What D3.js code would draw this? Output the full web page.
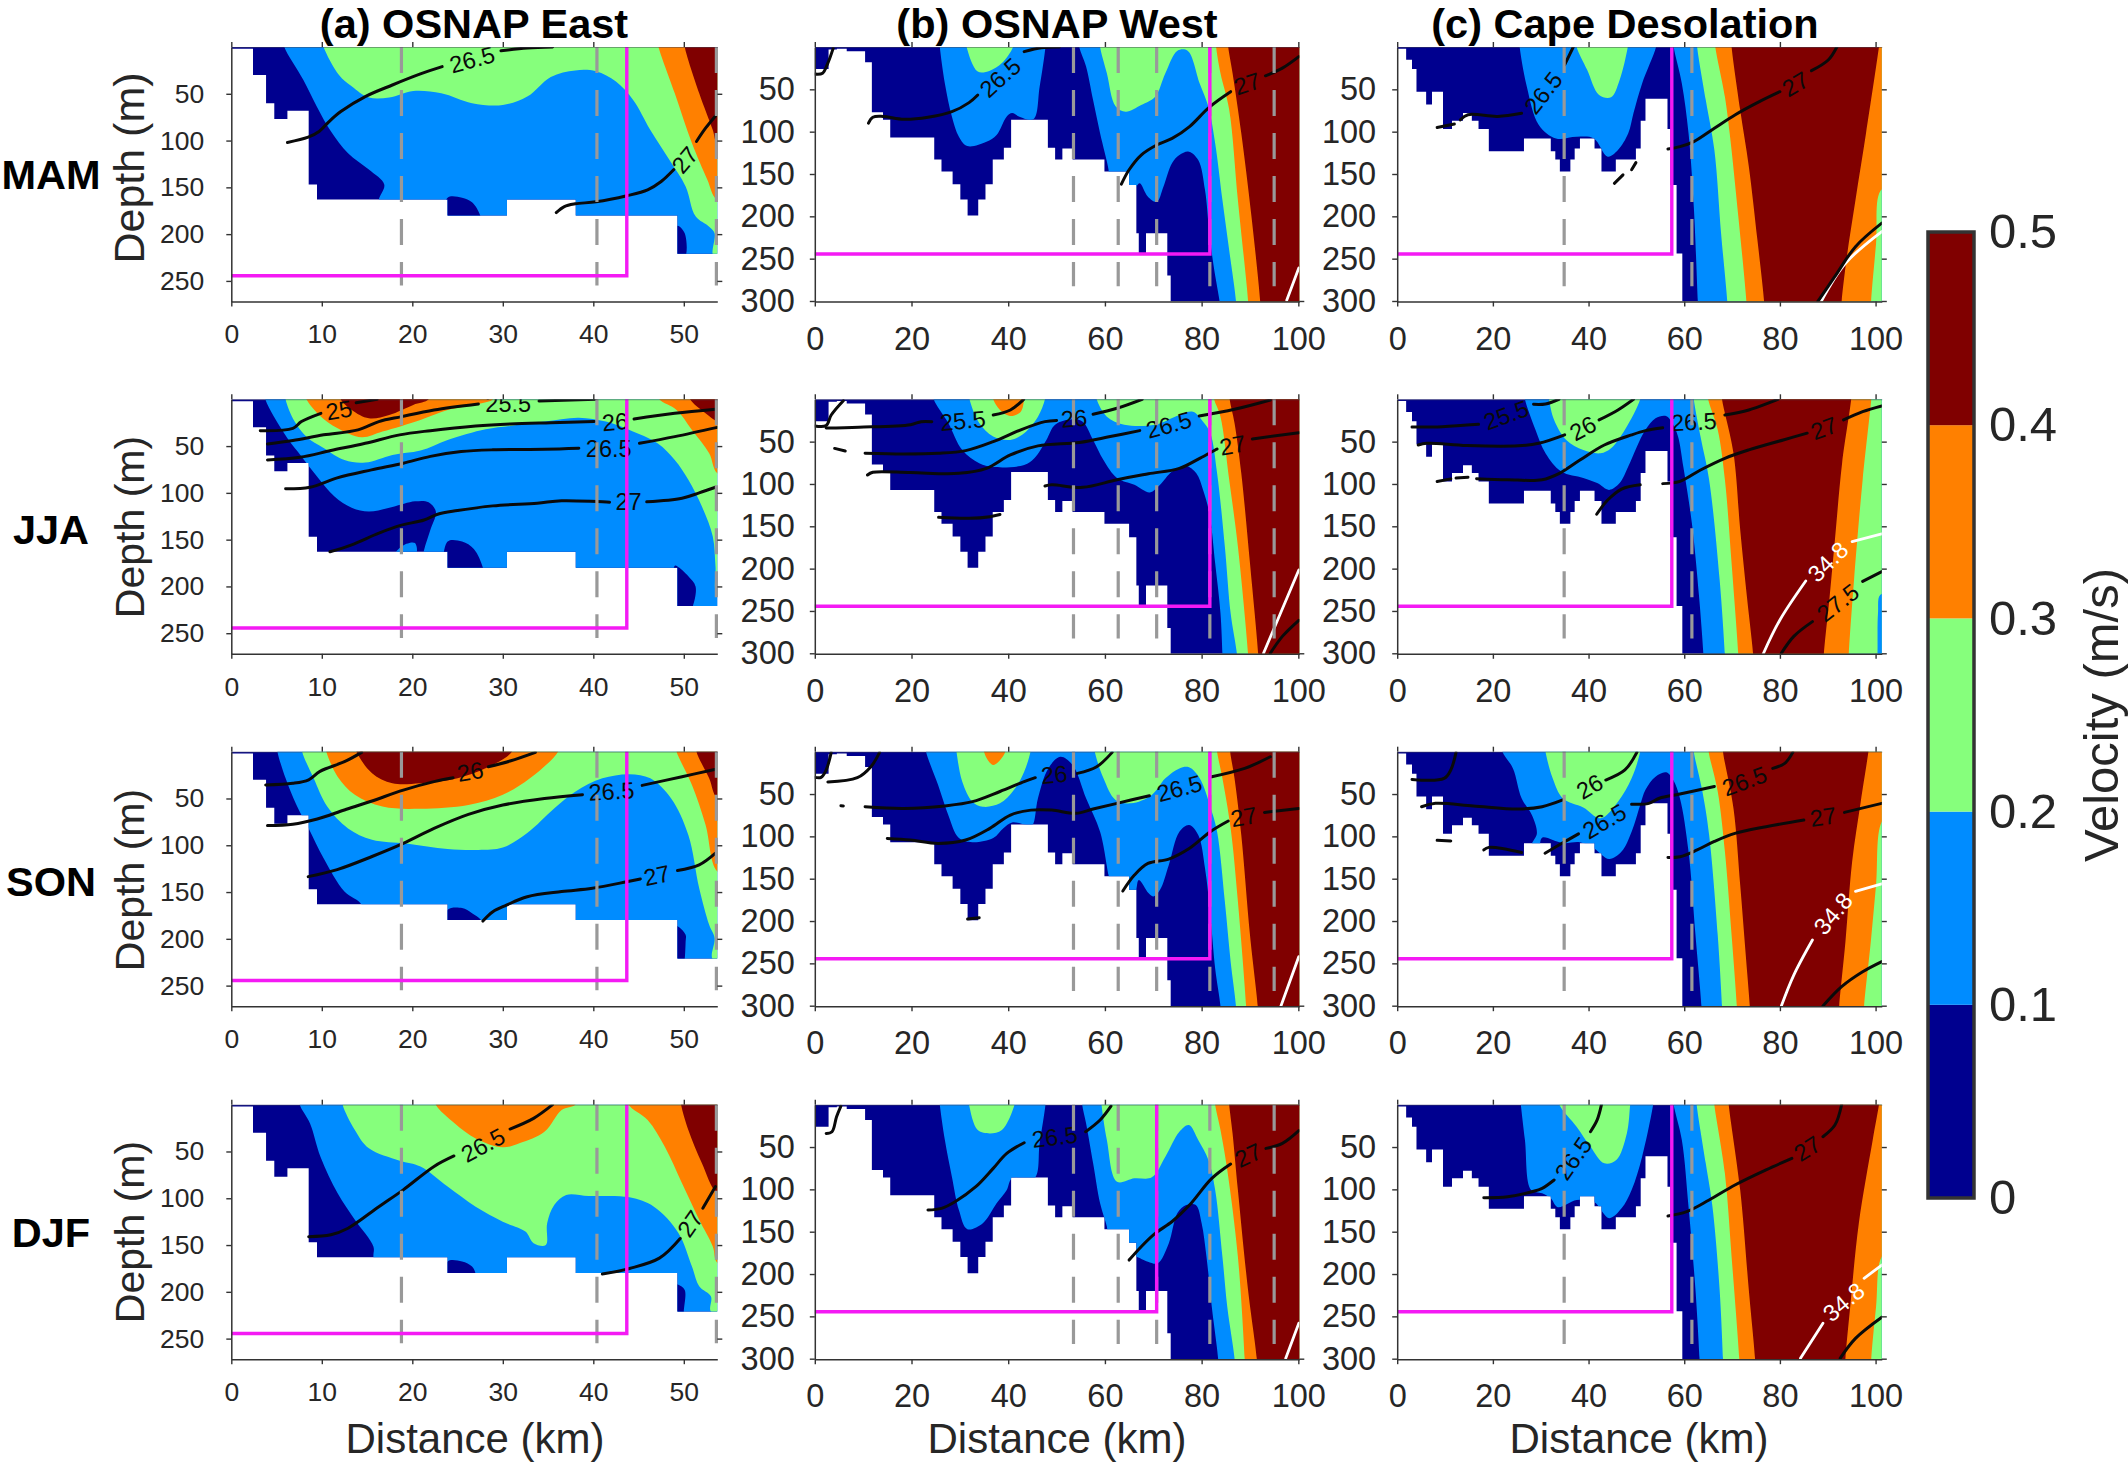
<!DOCTYPE html>
<html>
<head>
<meta charset="utf-8">
<script src="https://cdn.jsdelivr.net/npm/d3@7"></script>
<style>
  html, body { margin: 0; padding: 0; background: #fff; }
  svg { display: block; }
  text { font-family: "Liberation Sans", Arial, sans-serif; fill: #262626; }
</style>
</head>
<body>
<svg id="chart" width="2128" height="1470"></svg>
<script>
// Velocity bands: 0 = 0-0.1, 1 = 0.1-0.2, 2 = 0.2-0.3, 3 = 0.3-0.4, 4 = 0.4-0.5 m/s
const bandColors = ["#00008f", "#008cff", "#86ff7c", "#ff8000", "#800000"];
const bandEdges = [0, 0.1, 0.2, 0.3, 0.4, 0.5];

const seasons = ["MAM", "JJA", "SON", "DJF"];
const sections = ["(a) OSNAP East", "(b) OSNAP West", "(c) Cape Desolation"];

// Seabed steps along each section: distance edges (km), depth between edges (m)
const eastEdges = [0,2.4,3.84,4.75,6.2,8.55,9.47,23.9,30.46,38.06,49.3,53.7];
const eastFloor = [2,30,60,77,68,147,163,180,163,180,221];
const westEdges = [0,2.85,4.56,6.6,10.4,11.8,14.1,15.6,24.7,26.2,28.5,30.1,31.6,33.8,35.3,36.8,39.1,40.6,48.2,49.7,51.2,53.3,59.9,65,66.5,67,68.5,72.9,73.6,100.2];
const westFloor = [26,3,2,5,18,77,86,107,133,147,162,180,199,180,162,133,119,86,119,133,120,133,147,163,220,244,220,270,300.6];
const capeEdges = [0,1.87,3.1,4.03,6.05,7.27,9.58,11.45,13.75,15.6,17,19.15,26.5,32.1,33.05,34,36.2,37.1,38.2,41.25,42.7,45.7,49.9,50.9,51.9,56.5,57.1,58.4,59.6,101.3];
const capeFloor = [2,15,26,53,68,53,97,87,78,87,97,123,108,123,133,147,133,120,108,120,147,133,120,87,61,97,163,244,300.6];

// Mooring positions (km) and eastern limit of the boundary current box (km)
const eastMoorings = [18.8,40.4,53.6];
const westMoorings = [53.5,62.75,70.7,81.7,95];
const capeMoorings = [34.9,61.6];
const eastBoxEdge = [43.7,43.7,43.7,43.7];
const westBoxEdge = [81.7,81.7,81.7,70.7];
const capeBoxEdge = [57.4,57.4,57.4,57.4];
const boxDepth = 244.5;

// Band outlines as [band, [[km, m], ...]], painted in order over the 0-0.1 background
const eastMamBands = [
 [1,[[5.7,-10],[5.86,0],[7.95,35],[9.47,64],[11,90],[12.9,113.5],[15.2,131],[16.9,147],[16.3,163],[16.1,178],[16.1,240],[56,240],[56,-10]]],
 [0,[[23.9,161],[25.5,161],[26.6,166],[27.5,180],[27.6,190],[23.7,190]]],
 [0,[[49.3,191],[50.1,199],[50.1,225],[49,225]]],
 [2,[[10,-10],[10.2,0],[11.9,30],[13.3,42],[15.2,54],[17.45,54],[20.1,47],[23.2,49.5],[26.6,60],[30,62],[32.7,53],[35.3,32],[38,25],[40.3,26],[42.5,37],[44.4,56.6],[46.3,88.6],[48.4,120.6],[50.2,149],[51.3,181],[52.8,192],[53.4,199],[53.3,224],[56,224],[56,-10]]],
 [3,[[47,-10],[47.2,0],[49,49.5],[50.9,103],[52.6,142],[53.6,163],[56,170],[56,-10]]],
 [4,[[50,-10],[50.1,0],[51.7,49.5],[53.2,88.6],[53.7,103],[56,110],[56,-10]]]
];
const eastJjaBands = [
 [1,[[3.6,-10],[3.76,0],[4.7,18.5],[6.2,41.6],[7.75,61],[9.47,82.6],[11.4,104],[13.3,116],[15.2,120],[17.8,115],[20.3,109],[21.8,110],[22.6,120],[22,139.5],[21.3,161],[21,175],[21,240],[56,240],[56,-10]]],
 [1,[[18.2,164],[19.35,154.5],[20.3,153.7],[20.4,166]]],
 [0,[[23.9,152],[25.5,152],[26.8,160],[27.8,180],[27.9,190],[23.8,190]]],
 [0,[[49.3,178.6],[50.5,189],[51.3,200],[51,221],[50.5,230],[49,230],[49,178]]],
 [2,[[6,-10],[6,0],[7,23.8],[8.3,40],[10.2,52],[12.5,65],[14.8,67.6],[17.8,59.4],[20.9,54.8],[23.9,43.4],[28.1,32],[30.8,28.5],[34.6,23.8],[38.4,19.6],[41.4,23.8],[44,32.7],[47.1,47],[49,65],[50.5,86],[52,114.6],[53.2,146.6],[53.5,178.6],[53.7,210],[56,215],[56,-10]]],
 [3,[[8,-10],[8.3,0],[9.7,16.7],[11.75,31],[14.4,40.6],[16.7,34.5],[20.9,22],[23.9,11.4],[27.3,5],[28.9,0],[29,-10]]],
 [3,[[47,-10],[47.3,0],[49.2,11.4],[50.9,32.7],[52.8,57.6],[53.7,79],[56,85],[56,-10]]],
 [4,[[12,-10],[12.1,0],[13.3,11.4],[15.2,20.3],[17.45,16.7],[20.1,6],[21.8,0],[22,-10]]],
 [4,[[50.5,-10],[50.7,0],[52.4,15],[53.7,23.8],[56,30],[56,-10]]]
];
const eastSonBands = [
 [1,[[5,-10],[5.1,0],[6,28.5],[7.2,57],[8.55,82],[10.2,114],[12.5,149.5],[14.4,163.7],[14.6,190],[14.6,240],[56,240],[56,-10]]],
 [0,[[23.9,169],[25.5,167],[26.6,172.6],[27.7,181.5],[27.8,195],[23.8,195]]],
 [0,[[49.4,187],[50.2,195.7],[50.2,203],[50.1,222],[50,230],[49.2,230],[49.2,187]]],
 [2,[[7.7,-10],[7.83,0],[9.1,28.5],[10.6,58.7],[12.9,82],[15.55,94],[19.35,98],[23.9,104],[27.3,105],[30,102.5],[32.7,87],[35.7,60.5],[38,42.7],[41,28.5],[44,24],[46.3,28.5],[48.6,50],[50.5,89],[51.7,146],[52.8,185],[53.4,199],[53.2,222],[56,225],[56,-10]]],
 [3,[[10.3,-10],[10.5,0],[11.75,26.7],[13.65,46],[16.7,58.7],[20.9,61],[26.2,57],[30,46],[33,28.5],[36.1,0],[36.3,-10]]],
 [3,[[49,-10],[49.2,0],[50.9,35.6],[52.4,78],[53.7,128],[56,135],[56,-10]]],
 [4,[[13.6,-10],[13.84,0],[15.55,23],[17.8,33.8],[20.9,33.8],[25,28.5],[28.9,14],[31,0],[31.2,-10]]],
 [4,[[51.3,-10],[51.4,0],[52.8,28.5],[53.7,50],[56,55],[56,-10]]]
];
const eastDjfBands = [
 [1,[[7.5,-10],[7.57,0],[8.7,20],[9.85,55.5],[11.75,94.7],[13.65,123],[15.7,151.6],[15.7,162],[15.8,190],[15.8,240],[56,240],[56,-10]]],
 [0,[[23.9,167.6],[25.5,167.6],[26.6,173],[27,181],[27,195],[23.8,195]]],
 [0,[[49.4,192.5],[50.1,198],[50,221],[50,230],[49.2,230],[49.2,192]]],
 [2,[[12.2,-10],[12.3,0],[13.65,27],[15.2,46.6],[18.6,59.8],[20.9,66],[23.9,87.5],[27,109],[30,125],[32.5,135.6],[33.4,148],[34.75,150],[34.9,126.7],[35.7,107],[37,96.4],[39.5,97.5],[44,99],[46.7,109],[49.4,137],[50.9,173],[51.7,194],[53,205],[53,221],[56,225],[56,-10]]],
 [3,[[22.4,-10],[22.6,0],[24.7,20],[27,36],[30,45.5],[31.9,41],[34.6,29],[36.5,5.7],[38,0],[38.2,-10]]],
 [3,[[43.7,-10],[43.9,0],[46,16.4],[47.9,45],[49.8,84],[51.7,123],[53.2,151.6],[53.7,169],[56,175],[56,-10]]],
 [4,[[49.6,-10],[49.7,0],[50.5,27],[52,62.6],[53.7,94.7],[56,100],[56,-10]]]
];

const westMamBands = [
 [1,[[25.7,-10],[25.85,0],[26.9,43],[28.35,82],[29.8,106],[31.55,117],[35.5,112],[37.6,104],[39.7,82],[40.8,78],[42.2,82],[45.2,85.4],[46.5,47],[47.7,0],[47.8,-10]]],
 [1,[[54.6,-10],[54.7,0],[56.1,23],[57.55,62.6],[59,102],[60.75,145],[60.9,155],[66,170],[66.5,165],[67.2,161],[68.9,177],[70.7,183],[72.1,165],[73.9,137],[75.4,127.6],[77.35,123.6],[79.3,133.5],[80.7,169],[81.6,220],[82.5,259.4],[83.7,300],[84,315],[104,315],[104,-10]]],
 [2,[[31.2,-10],[31.4,0],[33.7,29],[36.2,28],[38.7,19],[41,0],[41.2,-10]]],
 [2,[[58.9,-10],[59,0],[60.4,31],[62.2,70],[64.3,76.4],[67.5,68.5],[70.4,58.7],[72.5,31],[75,4.3],[77.1,4.3],[79.6,43],[81.4,70.5],[82.8,113.8],[84.3,180.7],[85.7,240],[87.1,300],[87.2,315],[104,315],[104,-10]]],
 [3,[[82.9,-10],[83,0],[83.9,31],[85.7,74],[87.5,181],[89.6,300],[89.7,315],[104,315],[104,-10]]],
 [4,[[85.4,-10],[85.5,0],[86.4,31],[88.2,102],[90.3,200],[92.1,300],[92.2,315],[104,315],[104,-10]]]
];
const westJjaBands = [
 [1,[[24.5,-10],[24.6,0],[27.6,28],[30.5,60],[34,75.6],[36.9,80],[43.3,77.6],[45.4,69.7],[47.9,48],[49.7,30],[53.3,23.6],[55.4,26.4],[57.55,48],[59.7,71.7],[62.5,93],[66.1,101],[69.3,110],[71.4,101],[73.9,85.4],[76.8,78.7],[78.9,87.4],[80.3,107],[81.6,134.6],[82.8,193.7],[83.9,252.8],[84.3,300.8],[84.4,315],[104,315],[104,-10]]],
 [2,[[31.8,-10],[32,0],[34,28],[36.9,44],[40.45,48],[43.3,40],[46.15,20.5],[47.6,0],[47.8,-10]]],
 [2,[[58.1,-10],[58.3,0],[60.4,20.5],[64,30],[70.4,30],[75.4,18.5],[78.2,14.6],[80.3,26.4],[81.8,40],[83.2,87.4],[84.8,174],[86,252.8],[87.3,300.8],[87.4,315],[104,315],[104,-10]]],
 [3,[[36.7,-10],[36.9,0],[38.3,12.6],[40.45,19.7],[42.6,14.6],[43.3,0],[43.5,-10]]],
 [3,[[82.5,-10],[82.6,0],[83.9,20.5],[85.7,95],[87.5,174],[89.6,300.8],[89.7,315],[104,315],[104,-10]]],
 [4,[[85.7,-10],[85.8,0],[86.8,28],[88.2,87.4],[90,193.7],[91.7,300.8],[91.8,315],[104,315],[104,-10]]]
];
const westSonBands = [
 [1,[[22.8,-10],[23,0],[25.5,39.4],[27.6,74.8],[29.8,102],[32.6,107],[36.9,102],[39,90.5],[40.8,83.5],[44,86.6],[45,86.6],[46.15,55],[48.3,19.7],[50.8,6],[53.3,15.7],[56.1,55],[59,94.5],[60.75,145.7],[61.1,153],[66,169],[67,151.6],[69,167],[70,171],[71.4,163],[73.2,134],[75.4,94.5],[77.4,86.6],[79.3,98.4],[80.7,137.8],[81.8,193],[82.8,256],[83.9,300.4],[84,315],[104,315],[104,-10]]],
 [2,[[29.1,-10],[29.3,0],[30.5,35.4],[32.6,59],[34.75,65],[38.3,61],[41.2,45],[43.3,23.6],[44.6,0],[44.8,-10]]],
 [2,[[57.7,-10],[57.9,0],[59.7,31.5],[62.2,57],[65.4,61],[69.7,51],[72.5,31.5],[75.4,19.7],[77.4,18.5],[79.6,31.5],[81.9,67],[83.2,94.5],[84.8,177],[86,248],[87.1,300.4],[87.2,315],[104,315],[104,-10]]],
 [3,[[34.8,-10],[35,0],[35.8,10],[36.9,15.7],[38.3,10],[39.4,0],[39.6,-10]]],
 [3,[[83.1,-10],[83.2,0],[84.3,31.5],[86,90.5],[87.5,177],[89.2,300.4],[89.3,315],[104,315],[104,-10]]],
 [4,[[85.8,-10],[85.9,0],[86.8,31.5],[88.2,98.4],[90,216.5],[91.6,300.4],[91.7,315],[104,315],[104,-10]]]
];
const westDjfBands = [
 [1,[[25.7,-10],[25.85,0],[26.9,41.7],[28.35,85],[29.8,124.4],[31.55,147],[34.75,140],[37.6,116.5],[39.7,100.8],[40.8,87],[45.4,87],[46.5,45.7],[47.7,0],[47.8,-10]]],
 [1,[[55.2,-10],[55.3,0],[56.1,22],[57.55,69],[59,116.5],[60.4,144],[60.75,156],[66.1,180],[66.45,179.5],[68.9,185.4],[70.9,187.4],[73.2,163.8],[75,128],[76.8,118.5],[78.8,118.5],[80,140],[81,179.5],[82.1,238.6],[83.4,299.6],[83.5,315],[104,315],[104,-10]]],
 [2,[[31.7,-10],[31.9,0],[33.7,30],[36.2,33.9],[38.7,30],[41.3,0],[41.5,-10]]],
 [2,[[59.2,-10],[59.3,0],[60.4,41.7],[62.5,91],[66.1,87],[69.7,85.8],[72.5,61.4],[75.4,32],[77.35,24],[79.3,41.7],[81.4,65.4],[82.8,100.8],[84.3,179.5],[85.3,238.6],[86.8,299.6],[86.9,315],[104,315],[104,-10]]],
 [3,[[82.7,-10],[82.8,0],[83.9,30],[85.3,77],[87.5,179.5],[88.9,299.6],[89,315],[104,315],[104,-10]]],
 [4,[[85.6,-10],[85.7,0],[86.4,33.9],[87.5,100.8],[89.6,218.9],[91.4,299.6],[91.5,315],[104,315],[104,-10]]]
];

const capeMamBands = [
 [1,[[25.5,-10],[25.6,0],[27.1,47],[29.6,92],[33.2,108],[37.5,106],[41.1,108],[44,129.5],[46.15,121.7],[48.3,102],[49.4,78],[51.2,43],[54.1,0],[54.3,-10]]],
 [1,[[57.7,-10],[57.8,0],[59.5,43],[60.9,102],[62,188.6],[62.85,300.8],[63,315],[105,315],[105,-10]]],
 [2,[[37.3,-10],[37.5,0],[39.7,27],[42.2,56.7],[44.7,59.4],[46.5,39],[48.2,0],[48.4,-10]]],
 [2,[[62.6,-10],[62.7,0],[64.5,62.6],[66.3,121.7],[67.7,220],[69,300.8],[69.1,315],[105,315],[105,-10]]],
 [3,[[66.4,-10],[66.5,0],[68.5,58.7],[69.5,102],[71.3,200],[73,300.8],[73.1,315],[99,315],[99.06,300.8],[100.1,232],[101,170],[104,160],[104,-10]]],
 [4,[[69.8,-10],[69.9,0],[71.7,74.4],[73.5,141],[75.3,228],[76.7,300.8],[76.8,315],[92.8,315],[92.9,300.8],[94,247.6],[95.8,180.7],[98,102],[100.7,0],[100.9,-10]]]
];
const capeJjaBands = [
 [1,[[26.5,-10],[26.7,0],[28.9,36],[31,63.8],[34.3,85.4],[38.9,93],[41.8,99],[44.3,107],[46.5,99],[48.3,79.5],[50.1,56],[51.9,36],[54,22.4],[56.2,19.7],[57.5,28],[58.7,44],[59.8,79.5],[61.6,146.5],[63.1,233],[64,300.8],[64.1,315],[105,315],[105,-10]]],
 [2,[[31.6,-10],[31.75,0],[32.8,24.4],[35.35,48],[38.9,60],[42.5,63.8],[44.7,57.9],[47.6,36],[50.8,0],[51,-10]]],
 [2,[[61.9,-10],[62,0],[63.4,44],[65.2,95],[67.4,213],[68.5,300.8],[68.6,315],[105,315],[105,-10]]],
 [1,[[101,231],[100.5,253],[100.4,300.8],[100.3,315],[104,315],[104,231]]],
 [3,[[64.9,-10],[65,0],[67,36],[68.5,95],[69.9,193.7],[71.3,300.8],[71.4,315],[94.3,315],[94.4,300.8],[95.5,213],[97.3,95],[99.1,0],[99.2,-10]]],
 [4,[[67.8,-10],[67.9,0],[70.3,63.8],[71.7,154],[73.1,233],[74.4,300.8],[74.5,315],[89.1,315],[89.2,300.8],[90.4,233],[91.5,166],[93,75.6],[94.9,0],[95,-10]]]
];
const capeSonBands = [
 [1,[[21.9,-10],[22,0],[24.2,19.7],[26,55],[28.15,74.8],[29.2,96.5],[28.15,110],[29.6,112],[30.3,101.6],[34.6,108],[38.2,107],[41.1,114],[44.3,126.8],[46.9,118],[49,94.5],[50.8,63],[51.9,45],[54,29.5],[56.2,24.4],[57.7,33.5],[59.1,55],[60.9,118],[62.35,216.5],[63.6,300.4],[63.7,315],[105,315],[105,-10]]],
 [2,[[30.8,-10],[31,0],[32.5,31.5],[34.6,55],[38.9,66],[42.5,78.7],[46.15,59],[49,31.5],[50.8,0],[51,-10]]],
 [2,[[61.9,-10],[62,0],[63.8,47],[65.2,98],[67,216.5],[67.9,300.4],[68,315],[105,315],[105,-10]]],
 [3,[[65,-10],[65.1,0],[67,47],[68.5,118],[69.9,216.5],[71,300.4],[71.1,315],[97.5,315],[97.6,300.4],[99,224.4],[100.1,157.5],[101.3,82.7],[104,70],[104,-10]]],
 [4,[[68,-10],[68.1,0],[70.3,67],[71.7,157.5],[72.8,236],[73.7,300.4],[73.8,315],[92.3,315],[92.4,300.4],[93.7,224.4],[95.1,130],[96.9,59],[98.5,0],[98.7,-10]]]
];
const capeDjfBands = [
 [1,[[25.7,-10],[25.85,0],[26.7,41.7],[28,100.8],[30.3,104.7],[32.1,110.6],[33.55,121],[37.5,112.6],[41.1,114.6],[44.3,134],[46.9,122.4],[49,100.8],[51.2,61.4],[53.5,0],[53.7,-10]]],
 [1,[[57.7,-10],[57.8,0],[59.5,41.7],[60.9,120.5],[62.35,218.9],[63.2,299.6],[63.3,315],[105,315],[105,-10]]],
 [2,[[33.7,-10],[33.9,0],[37.5,26],[40.4,49.6],[43.3,69.3],[45.8,65.4],[48,33.9],[48.7,0],[48.9,-10]]],
 [2,[[62.5,-10],[62.6,0],[64.5,69.3],[65.9,120.5],[67.4,218.9],[68.1,299.6],[68.2,315],[105,315],[105,-10]]],
 [3,[[66.2,-10],[66.3,0],[68.5,81],[69.9,179.5],[71.5,299.6],[71.6,315],[99,315],[99.1,299.6],[100.1,238.6],[101.3,179.5],[104,170],[104,-10]]],
 [4,[[69.2,-10],[69.3,0],[71.7,100.8],[73.5,218.9],[74.8,299.6],[74.9,315],[93.6,315],[93.7,299.6],[94.7,238.6],[96.5,140],[99.4,41.7],[100.7,0],[100.9,-10]]]
];

// Isopycnal segments (broken where a label sits) and the 34.8 isohaline
const eastMamLines = [
 [[6.2,102],[8.5,96.4],[9.7,90.4],[10.8,79.7],[12.1,69],[14.8,53],[17.8,40.6],[20.9,28.8],[23.3,21]],
 [[29.8,4],[32.7,1],[35.5,0]],
 [[35.9,177],[36.8,170.5],[38,167.6],[40.3,165.5],[43.7,159],[46,152.7],[47.5,143.8],[48.9,131]],
 [[51.4,101],[52.4,86.8],[53.5,73.7]]
];
const eastJjaLines = [
 [[3.2,33.5],[6.8,31],[7.75,23.8],[9.9,15]],
 [[13.8,3.6],[16.1,0]],
 [[4,47.7],[6.8,44],[10.2,38],[14,32.7],[16.3,23.8],[18.8,18.5],[22.4,11.4],[27.3,5]],
 [[34,1.8],[40.3,0]],
 [[4,64.8],[7.6,62],[11,54.8],[14.8,47],[18.6,38],[22,33.5],[27,28.5],[30.8,26.3],[35.3,25],[40.1,23.8]],
 [[44.5,21],[49,15],[53.5,10.7]],
 [[6,95.7],[8.7,94],[11.7,84],[15.5,75.4],[19,68.3],[22,61],[25.4,55.9],[28.9,54],[34.6,53.4],[38.4,52.3]],
 [[45.1,47],[49,39.9],[53.7,30]],
 [[10.9,163],[13.3,155.5],[16.3,143],[18.6,135],[21.3,129],[22.8,122.8],[25,118.9],[28.9,113.9],[33.8,111],[36.5,108.5],[41.8,110]],
 [[45.9,109.6],[49.8,105.7],[51.7,100],[53.5,94]]
];
const eastSonLines = [
 [[3.8,35.6],[6.8,33.8],[8.55,30],[9.8,21],[12.5,10.7],[14.4,0.7]],
 [[4,79],[6.8,77.6],[9.5,71.9],[12.5,62.3],[15.55,52.7],[19,41],[22.4,32],[24.5,27.8]],
 [[28.4,16],[30.8,10],[33.6,0.7]],
 [[8.5,133.5],[11.7,126],[15.55,112],[19,98],[22.4,82],[26.2,67],[30,57],[34.6,50],[38.8,46]],
 [[45.4,36],[49.8,26.7],[53.4,19]],
 [[27.8,181],[28.9,171],[30.4,164],[32.7,155],[36.5,149.5],[39.9,146],[43.7,139],[45.2,136]],
 [[49.3,127],[51.7,121],[53.5,108.5]]
];
const eastDjfLines = [
 [[8.55,141],[11,139],[12.9,132],[16.3,109],[19,91],[22.4,66],[24.6,54.8]],
 [[30.8,26],[33.4,14.6],[35.5,0]],
 [[41,181],[44,175],[47.3,164],[49.6,143]],
 [[52.1,110.7],[53.5,87.5]]
];
const westMamLines = [
 [[0,32],[1.6,31],[2.7,19],[3.8,1.6]],
 [[11.1,90],[12,83],[14.1,82],[18.4,85.4],[23.4,83],[28.35,76.4],[31.9,65.7],[33.7,56.7]],
 [[43.3,5.5],[46.9,0.8],[50.6,0]],
 [[63.4,162],[65,145],[67.5,127.6],[70.7,115.7],[73.9,108],[77.5,94],[81.6,71],[86,52.8]],
 [[93.2,34],[96.7,25],[100.1,11.4]]
];
const westJjaLines = [
 [[0,31.5],[2.35,31],[3.4,18.5],[5.9,1.6]],
 [[2.35,34],[9.1,33],[19.8,30],[22,26.4],[24.2,26.4]],
 [[36.9,18.5],[40.45,12.6],[43.2,0]],
 [[4.1,58],[6.3,61]],
 [[10.4,63.8],[18.4,64.6],[25.5,63.8],[31.2,60.6],[36.9,50],[42.6,36],[47.6,26.4],[50,25]],
 [[57.55,17.7],[62.5,10.6],[67.7,0]],
 [[10.9,89.4],[12,86.2],[19.8,86.6],[29.8,87.4],[35.5,81.5],[40.45,65.7],[46.15,55],[54.7,51],[61.1,44],[67.2,37]],
 [[79.5,19.7],[86.8,11.8],[94.2,0.8]],
 [[47.6,102.4],[49,101],[55.4,104],[62.5,95],[69,88],[75.4,81.5],[79.6,69.7],[83.2,58.7]],
 [[90.5,46.9],[100.1,39.4]],
 [[25.6,139.4],[31.9,140.6],[36.2,138.6],[38.3,136]],
 [[94.2,300],[96.7,280],[100.1,261]]
];
const westSonLines = [
 [[0,30.3],[1.3,30.3],[2.35,21.6],[3.4,0.8]],
 [[2.7,35.8],[8.8,30.7],[11.6,17.7],[13.4,0.8]],
 [[5.4,63.8],[5.9,64]],
 [[10.4,65],[18.4,67],[26.9,64],[32.6,59],[38.3,47],[43.3,35.4],[45.6,30.7]],
 [[54.3,25.6],[58.3,17.7],[61.5,0.8]],
 [[15,102.4],[19.8,104.3],[25.5,108.3],[31.2,104.3],[36.2,90.5],[40.45,74.8],[44.7,69],[49,69],[54,72.8],[57.55,67.7],[62.5,61],[69.2,52]],
 [[82.1,29.5],[88.9,19.7],[94.2,6]],
 [[63.7,164.6],[66.1,145.7],[68.9,132],[73.2,126.8],[77.5,114],[81.8,94.5],[85.5,81.9]],
 [[93,71.7],[100.1,67]],
 [[31.6,197.6],[34,196]]
];
const westDjfLines = [
 [[2.35,33.9],[3.56,31.9],[4.5,14.2],[5.4,1.6]],
 [[23.4,124.4],[26.2,122.4],[29,114.6],[33.3,96.9],[36.9,75.2],[39.7,57.5],[43.3,44.9]],
 [[56,31.9],[59,18],[61.25,1.6]],
 [[65,183.5],[67.5,167.7],[70.4,152],[73.9,138],[77.5,118.5],[82.1,87],[86,70]],
 [[93.3,51.6],[96.7,45.7],[100.1,30.7]]
];
const capeMamLines = [
 [[8.35,95],[11.95,91]],
 [[13.2,86],[14.8,80],[21,82],[26,78.3]],
 [[35,21],[36.8,0]],
 [[45.4,161],[47.2,151]],
 [[49,145],[49.9,136.6]],
 [[56.6,120.5],[59.1,117.7],[62,111.8],[66.3,96],[70.6,80.3],[75.7,64.6],[80,52.8]],
 [[86.6,28],[90.1,15.4],[91.9,0]],
 [[87.9,300.8],[91.5,271],[95.8,235.8],[101.3,208]]
];
const capeJjaLines = [
 [[3.1,32.7],[9.4,32.3],[17,29.5]],
 [[28.5,5.9],[31,5.5],[33.8,0]],
 [[4.4,54],[6.2,52],[14.5,54.7],[25.3,55],[29.6,52],[35,42]],
 [[42.2,24.4],[46.15,12.6],[49.4,0]],
 [[8.35,97],[11.2,94]],
 [[12.3,93],[14.8,92]],
 [[16.6,93.7],[23.1,95],[30.3,95],[33.9,87.4],[38.2,71.7],[43.3,54],[49,42],[51.9,37],[55.5,33.5]],
 [[68.5,18.5],[73.5,12.6],[79.6,0]],
 [[41.7,135.8],[44,119],[46.9,106],[50.8,101]],
 [[55.5,99.6],[59.1,97],[63.4,83.5],[68.5,69.7],[73.5,59.8],[80.7,48],[85.7,40]],
 [[93.3,24.4],[97.3,14.6],[101.3,7.9]],
 [[80.3,300],[82.9,280],[86.8,262.6]],
 [[97.3,215],[101.3,203.5]]
];
const capeSonLines = [
 [[3.1,32.7],[9.8,31.5],[11.2,21.6],[12.3,0.8]],
 [[5.1,65],[8,61],[15.9,64],[25.3,67.7],[30.3,65],[34.6,57]],
 [[43.6,33.5],[47.6,21.6],[50.1,0.8]],
 [[8.35,104.7],[11.2,105.5]],
 [[18.1,116],[19.15,113],[26,119]],
 [[30.9,120],[33.9,110],[37.9,97]],
 [[49,62],[52.6,61],[54.8,55],[59.1,50],[66.3,41]],
 [[78.5,19.7],[81,13.8],[82.7,0.8]],
 [[56.6,125],[59.1,124],[62.7,116],[66.3,106],[70.6,96.5],[77.1,88.6],[85,80.7]],
 [[93.5,71.7],[101.3,61]],
 [[89,300.4],[92.9,277.6],[97.3,260],[101.3,248]]
];
const capeDjfLines = [
 [[18.1,109.8],[23.1,108.7],[28.15,102.8],[30.3,98.8],[32.8,89]],
 [[40.4,31.9],[41.8,18],[42.7,0]],
 [[56.6,131.5],[60.5,126.4],[65.2,112.6],[70.6,94.9],[77.1,77],[82.5,63.4]],
 [[89,37.8],[91.5,24],[92.9,0]],
 [[92.6,299.6],[95.8,276],[101.3,251]]
];

const westMamSalt = [[[97.6,299],[100.1,261]]];
const westJjaSalt = [[[92.8,300],[100.1,201.6]]];
const westSonSalt = [[[96.4,300.4],[100.1,242]]];
const westDjfSalt = [[[97.4,299.6],[100.1,258]]];
const capeMamSalt = [[[88.6,300.8],[93.7,255.5],[101.3,218]]];
const capeJjaSalt = [[[76.5,300.8],[80,260.6],[85.4,214.6]],[[95.1,168],[101.3,159]]];
const capeSonSalt = [[[80.3,300.4],[82.9,263.8],[86.8,222.4]],[[95.8,165],[101.3,156]]];
const capeDjfSalt = [[[84.3,299.6],[89,258]],[[97.6,205],[101.3,189.4]]];

// Inline contour labels: text, km, m, slope in degrees
const eastMamTags = [["26.5",26.6,13.2,-15],["27",50.1,120.6,-50]];
const eastJjaTags = [["25",11.9,11.4,-10],["25.5",30.6,5,0],["26",42.4,23.8,-5],["26.5",41.7,52.3,0],["27",43.9,109,0]];
const eastSonTags = [["26",26.4,21,-10],["26.5",42,42,-3],["27",47,132,-12]];
const eastDjfTags = [["26.5",27.8,43,-28],["27",50.7,127,-55]];
const westMamTags = [["26.5",38.3,36,-42],["27",89.4,43,-18]];
const westJjaTags = [["25.5",30.6,25,-5],["26",53.6,22.4,-5],["26.5",73.2,30,-15],["27",86.4,54,-10]];
const westSonTags = [["26",49.5,26.8,-5],["26.5",75.4,43,-15],["27",88.7,76.8,-10]];
const westDjfTags = [["26.5",49.6,37.8,-7],["27",89.6,59.4,-25]];
const capeMamTags = [["26.5",30.5,54,-52],["27",83.2,43.7,-30]];
const capeJjaTags = [["25.5",22.75,18.5,-20],["26",38.8,34,-28],["26.5",62,26.4,-3],["27",89.2,34,-20],["27.5",92.1,240,-38],["34.8",90,191.7,-45]];
const capeSonTags = [["26",40.2,41,-30],["26.5",43.3,82,-30],["26.5",72.6,34.6,-20],["27",89,76.8,-8],["34.8",91.1,191,-50]];
const capeDjfTags = [["26.5",36.8,63.4,-55],["27",85.7,51.6,-32],["34.8",93.3,232.7,-40]];

// Column layout
const columns = [
  { title: sections[0], titleX: 474, x0: 231.3, x1: 717.3, km: 53.7, dep: 272, xTicks: d3.range(0, 51, 10), yTicks: d3.range(50, 251, 50),
    font: 26.5, xPad: 18, yPad: 22, labelX: 475, edges: eastEdges, floor: eastFloor, moorings: eastMoorings, dashEnd: 255, boxEdge: eastBoxEdge,
    bands: [eastMamBands, eastJjaBands, eastSonBands, eastDjfBands], lines: [eastMamLines, eastJjaLines, eastSonLines, eastDjfLines],
    salt: [[], [], [], []], tags: [eastMamTags, eastJjaTags, eastSonTags, eastDjfTags], rightTicks: d3.range(50, 251, 50) },
  { title: sections[1], titleX: 1057, x0: 814.8, x1: 1299.3, km: 100.2, dep: 300.6, xTicks: d3.range(0, 101, 20), yTicks: d3.range(50, 301, 50),
    font: 32.5, xPad: 20, yPad: 15, labelX: 1057, edges: westEdges, floor: westFloor, moorings: westMoorings, dashEnd: 282.5, boxEdge: westBoxEdge,
    bands: [westMamBands, westJjaBands, westSonBands, westDjfBands], lines: [westMamLines, westJjaLines, westSonLines, westDjfLines],
    salt: [westMamSalt, westJjaSalt, westSonSalt, westDjfSalt], tags: [westMamTags, westJjaTags, westSonTags, westDjfTags], rightTicks: [300] },
  { title: sections[2], titleX: 1625, x0: 1397.2, x1: 1881.8, km: 101.3, dep: 300.6, xTicks: d3.range(0, 101, 20), yTicks: d3.range(50, 301, 50),
    font: 32.5, xPad: 20, yPad: 16, labelX: 1639, edges: capeEdges, floor: capeFloor, moorings: capeMoorings, dashEnd: 282.5, boxEdge: capeBoxEdge,
    bands: [capeMamBands, capeJjaBands, capeSonBands, capeDjfBands], lines: [capeMamLines, capeJjaLines, capeSonLines, capeDjfLines],
    salt: [capeMamSalt, capeJjaSalt, capeSonSalt, capeDjfSalt], tags: [capeMamTags, capeJjaTags, capeSonTags, capeDjfTags], rightTicks: d3.range(50, 301, 50) }
];
const rowTops = [47, 399.3, 751.7, 1104.7];
const rowLabelY = [174, 529, 881, 1232];
const depthLabelY = [168, 527, 880, 1232];
const panelHeight = 254.5;

const svg = d3.select("#chart");
const defs = svg.append("defs");

function styleAxis(g) {
  g.select(".domain").attr("stroke", "#333").attr("stroke-width", 1.5);
  g.selectAll(".tick line").attr("stroke", "#333").attr("stroke-width", 1.4);
  g.selectAll("text").attr("fill", "#262626");
}

columns.forEach((col, ci) => {
  svg.append("text").attr("x", col.titleX).attr("y", 38).attr("text-anchor", "middle")
    .attr("font-size", 41.5).attr("font-weight", "bold").style("fill", "#000").text(col.title);

  rowTops.forEach((top, ri) => {
    const x = d3.scaleLinear().domain([0, col.km]).range([col.x0, col.x1]);
    const y = d3.scaleLinear().domain([0, col.dep]).range([top, top + panelHeight]);
    const pid = `c${ci}r${ri}`;

    // Seabed mask and panel window
    const floorPts = [[col.edges[0], 0]];
    col.floor.forEach((d, i) => { floorPts.push([col.edges[i], d], [col.edges[i + 1], d]); });
    floorPts.push([col.edges[col.edges.length - 1], 0]);
    const toPx = d3.line().x(d => x(d[0])).y(d => y(d[1]));
    defs.append("clipPath").attr("id", "sea-" + pid).append("path").attr("d", toPx(floorPts) + "Z");
    defs.append("clipPath").attr("id", "win-" + pid).append("rect")
      .attr("x", col.x0).attr("y", top).attr("width", col.x1 - col.x0).attr("height", panelHeight);

    // Filled velocity bands
    const sea = svg.append("g").attr("clip-path", `url(#sea-${pid})`);
    sea.append("rect").attr("x", col.x0).attr("y", top).attr("width", col.x1 - col.x0).attr("height", panelHeight)
      .attr("fill", bandColors[0]);
    const outline = d3.line().x(d => x(d[0])).y(d => y(d[1])).curve(d3.curveCatmullRomClosed.alpha(0.5));
    sea.selectAll("path.band").data(col.bands[ri]).join("path").attr("class", "band")
      .attr("d", d => outline(d[1])).attr("fill", d => bandColors[d[0]]);

    // Contours and their labels
    const win = svg.append("g").attr("clip-path", `url(#win-${pid})`);
    const contour = d3.line().x(d => x(d[0])).y(d => y(d[1])).curve(d3.curveCatmullRom.alpha(0.5));
    win.selectAll("path.salt").data(col.salt[ri]).join("path").attr("class", "salt")
      .attr("d", contour).attr("fill", "none").attr("stroke", "#fff").attr("stroke-width", 2.8).attr("stroke-linecap", "round");
    win.selectAll("path.dens").data(col.lines[ri]).join("path").attr("class", "dens")
      .attr("d", contour).attr("fill", "none").attr("stroke", "#0a0a0a").attr("stroke-width", 3).attr("stroke-linecap", "round");
    win.selectAll("text.tag").data(col.tags[ri]).join("text").attr("class", "tag")
      .attr("transform", d => `translate(${x(d[1])},${y(d[2])}) rotate(${d[3]})`)
      .attr("text-anchor", "middle").attr("dy", "0.36em").attr("font-size", 23.5)
      .style("fill", d => d[0] === "34.8" ? "#fff" : "#0a0a0a").text(d => d[0]);

    // Mooring sites
    svg.append("g").selectAll("line").data(col.moorings).join("line")
      .attr("x1", d => x(d)).attr("x2", d => x(d)).attr("y1", y(0)).attr("y2", y(col.dashEnd))
      .attr("stroke", "#999").attr("stroke-width", 3.2).attr("stroke-dasharray", "26 17");

    // Boundary current box
    const edge = col.boxEdge[ri];
    svg.append("path").datum([[0, boxDepth], [edge, boxDepth], [edge, 0]])
      .attr("d", toPx).attr("fill", "none").attr("stroke", "#f41af4").attr("stroke-width", 3.4);

    // Axes
    const gx = svg.append("g").attr("transform", `translate(0,${top + panelHeight})`)
      .call(d3.axisBottom(x).tickValues(col.xTicks).tickFormat(d3.format("d")).tickSize(5).tickSizeOuter(0).tickPadding(col.xPad));
    gx.attr("font-size", col.font).attr("font-family", null); styleAxis(gx);
    const gt = svg.append("g").attr("transform", `translate(0,${top})`)
      .call(d3.axisTop(x).tickValues(col.xTicks).tickFormat("").tickSize(5).tickSizeOuter(0));
    styleAxis(gt); gt.select(".domain").attr("stroke", "#445").attr("stroke-width", 0.8).attr("stroke-opacity", 0.6);
    const gy = svg.append("g").attr("transform", `translate(${col.x0},0)`)
      .call(d3.axisLeft(y).tickValues(col.yTicks).tickFormat(d3.format("d")).tickSize(5).tickSizeOuter(0).tickPadding(col.yPad));
    gy.attr("font-size", col.font).attr("font-family", null); styleAxis(gy);
    const gr = svg.append("g").attr("transform", `translate(${col.x1},0)`)
      .call(d3.axisRight(y).tickValues(col.rightTicks).tickFormat("").tickSize(5).tickSizeOuter(0));
    styleAxis(gr); gr.select(".domain").attr("stroke", "none");

    if (ci === 0) {
      svg.append("text").attr("transform", `translate(129,${depthLabelY[ri]}) rotate(-90)`)
        .attr("text-anchor", "middle").attr("dy", "0.36em").attr("font-size", ri === 0 ? 43 : 41).text("Depth (m)");
      svg.append("text").attr("x", 51).attr("y", rowLabelY[ri]).attr("text-anchor", "middle").attr("dy", "0.36em")
        .attr("font-size", 41.5).attr("font-weight", "bold").style("fill", "#000").text(seasons[ri]);
    }
    if (ri === 3) {
      svg.append("text").attr("x", col.labelX).attr("y", 1438).attr("text-anchor", "middle").attr("dy", "0.36em")
        .attr("font-size", 42).text("Distance (km)");
    }
  });
});

// Colour bar
const barX0 = 1928, barX1 = 1974;
const barY = d3.scaleLinear().domain([0, 0.5]).range([1198, 232]);
svg.append("g").selectAll("rect").data(bandColors).join("rect")
  .attr("x", barX0).attr("width", barX1 - barX0)
  .attr("y", (d, i) => barY(bandEdges[i + 1]))
  .attr("height", (d, i) => barY(bandEdges[i]) - barY(bandEdges[i + 1]))
  .attr("fill", d => d);
svg.append("rect").attr("x", barX0).attr("y", barY(0.5)).attr("width", barX1 - barX0).attr("height", barY(0) - barY(0.5))
  .attr("fill", "none").attr("stroke", "#333").attr("stroke-width", 3.5);
const gc = svg.append("g").attr("transform", `translate(${barX1},0)`)
  .call(d3.axisRight(barY).tickValues(bandEdges).tickFormat(d => d === 0 ? "0" : d3.format(".1f")(d)).tickSize(0).tickPadding(15));
gc.attr("font-size", 49).attr("font-family", null);
gc.select(".domain").remove();
gc.selectAll("text").attr("fill", "#262626");
svg.append("text").attr("transform", "translate(2100,715) rotate(-90)").attr("text-anchor", "middle").attr("dy", "0.36em")
  .attr("font-size", 49).text("Velocity (m/s)");
</script>
</body>
</html>
